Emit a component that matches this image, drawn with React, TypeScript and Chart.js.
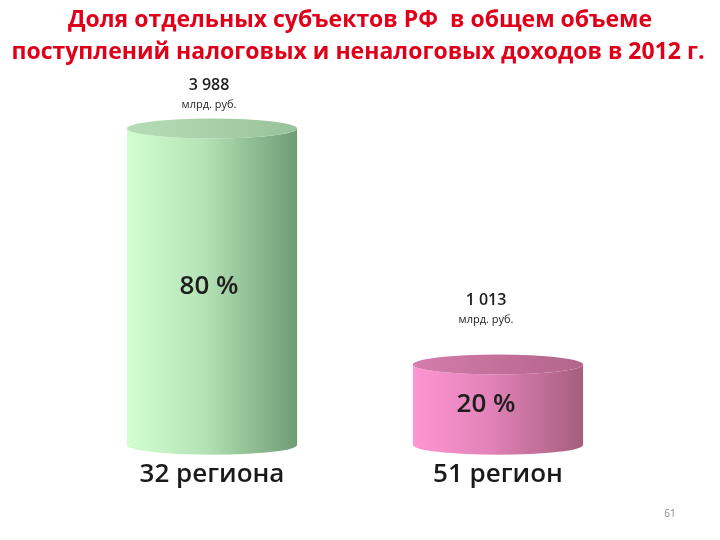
import React, { useEffect, useRef } from "react";
import { Chart, registerables } from "chart.js";
Chart.register(...registerables);

const titleLines = [
  "Доля отдельных субъектов РФ  в общем объеме",
  "поступлений налоговых и неналоговых доходов в 2012 г.",
];
const categories = ["32 региона", "51 регион"];
const values = [3988, 1013];
const valueLabels = ["3 988", "1 013"];
const unitLabel = "млрд. руб.";
const shareLabels = ["80 %", "20 %"];
const pageNumber = "61";

const palettes = [
  { light: "#d2ffd2", mid: "#b5e3b5", dark: "#6f9c75", topL: "#b6deb6", topD: "#98c29a" },
  { light: "#ff95d2", mid: "#e283b9", dark: "#a65e7d", topL: "#d47cac", topD: "#b2658a" },
];
const valueOffsetY = [43, 64];
const labelShiftX = [-3, -12];

const FONT = "'Open Sans', 'Noto Sans', sans-serif";

const cylinderPlugin = {
  id: "cylinders",
  afterDatasetsDraw(chart: any) {
    const ctx = chart.ctx as CanvasRenderingContext2D;
    ctx.save();
    ctx.textAlign = "center";
    ctx.textBaseline = "middle";
    ctx.fillStyle = "#e0001a";
    ctx.font = `700 23px ${FONT}`;
    ctx.fillText(titleLines[0], 360, 20, 704);
    ctx.fillText(titleLines[1], 358, 52, 704);
    ctx.restore();

    const meta = chart.getDatasetMeta(0);
    meta.data.forEach((bar: any, i: number) => {
      const { x, y, base, width } = bar.getProps(["x", "y", "base", "width"], true);
      const left = x - width / 2;
      const right = x + width / 2;
      const rx = width / 2;
      const ry = 10;
      const p = palettes[i];
      ctx.save();
      const g = ctx.createLinearGradient(left, 0, right, 0);
      g.addColorStop(0, p.light);
      g.addColorStop(0.45, p.mid);
      g.addColorStop(1, p.dark);
      ctx.beginPath();
      ctx.moveTo(left, y);
      ctx.lineTo(left, base);
      ctx.ellipse(x, base, rx, ry, 0, Math.PI, 0, true);
      ctx.lineTo(right, y);
      ctx.ellipse(x, y, rx, ry, 0, 0, Math.PI, false);
      ctx.closePath();
      ctx.fillStyle = g;
      ctx.fill();
      const gt = ctx.createLinearGradient(left, 0, right, 0);
      gt.addColorStop(0, p.topL);
      gt.addColorStop(1, p.topD);
      ctx.beginPath();
      ctx.ellipse(x, y, rx, ry, 0, 0, Math.PI * 2);
      ctx.fillStyle = gt;
      ctx.fill();

      ctx.textAlign = "center";
      ctx.textBaseline = "middle";
      ctx.fillStyle = "#1e1e1e";
      const lx = x + labelShiftX[i];
      ctx.font = `600 16px ${FONT}`;
      ctx.fillText(valueLabels[i], lx, y - valueOffsetY[i]);
      ctx.font = `400 11px ${FONT}`;
      ctx.fillText(unitLabel, lx, y - valueOffsetY[i] + 19);
      ctx.font = `600 26px ${FONT}`;
      ctx.fillText(shareLabels[i], lx, (y + base) / 2);
      ctx.restore();
    });
    ctx.save();
    ctx.font = `400 10px ${FONT}`;
    ctx.fillStyle = "#8a8a8a";
    ctx.textAlign = "center";
    ctx.textBaseline = "middle";
    ctx.fillText(pageNumber, 670, 514);
    ctx.restore();
  },
};

export default function App() {
  const ref = useRef<HTMLCanvasElement | null>(null);
  useEffect(() => {
    if (!ref.current) return;
    const chart = new Chart(ref.current, {
      type: "bar",
      data: {
        labels: categories,
        datasets: [
          {
            data: values,
            backgroundColor: "rgba(0,0,0,0)",
            borderWidth: 0,
            categoryPercentage: 1,
            barPercentage: 0.595,
          },
        ],
      },
      options: {
        animation: false,
        responsive: false,
        devicePixelRatio: 1,
        layout: { padding: { top: 80, bottom: 36, left: 69, right: 79 } },
        plugins: {
          legend: { display: false },
          tooltip: { enabled: false },
          title: { display: false },
        },
        scales: {
          x: {
            grid: { display: false, drawTicks: false },
            border: { display: false },
            ticks: {
              color: "#1a1a1a",
              padding: 14,
              font: { family: FONT, size: 26, weight: "600", lineHeight: 1.2 },
            },
          },
          y: {
            display: false,
            min: 0,
            max: 4600,
          },
        },
      },
      plugins: [cylinderPlugin],
    });
    return () => chart.destroy();
  }, []);
  return (
    <div style={{ position: "fixed", left: 0, top: 0, width: 720, height: 540, background: "#fff" }}>
      <canvas ref={ref} width={720} height={540} />
    </div>
  );
}
